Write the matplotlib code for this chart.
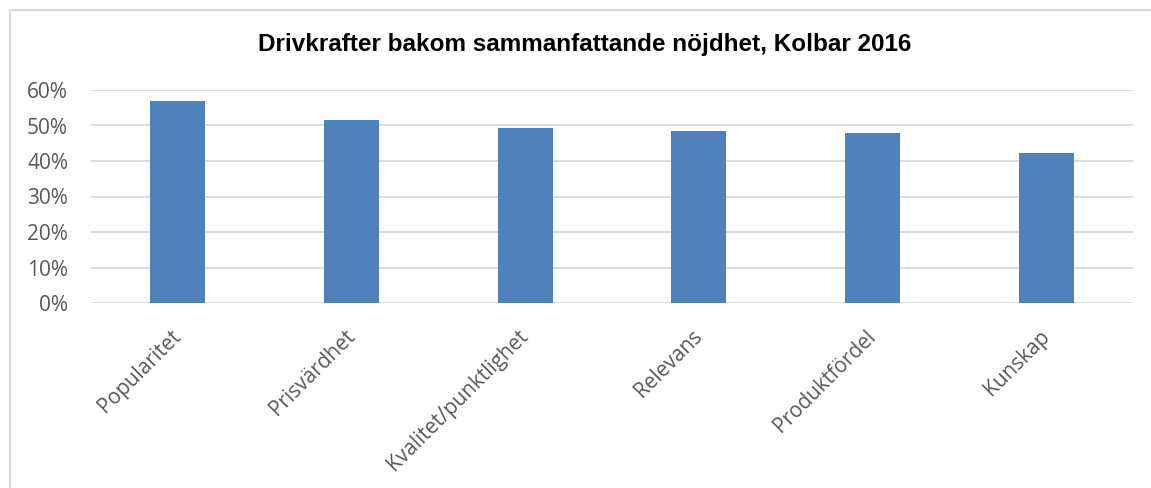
import matplotlib.pyplot as plt
from matplotlib.ticker import PercentFormatter
from matplotlib.patches import Rectangle

categories = ['Popularitet', 'Prisvärdhet', 'Kvalitet/punktlighet', 'Relevans', 'Produktfördel', 'Kunskap']
values = [0.57, 0.515, 0.493, 0.484, 0.479, 0.423]

fig = plt.figure(figsize=(11.51, 4.88), dpi=100)
ax = fig.add_axes([91 / 1151, 1 - 303 / 488, (1133 - 91) / 1151, (303 - 90) / 488])

# chart frame (only left and top edges visible in the crop)
fig.add_artist(Rectangle((10 / 1151, -0.1), 1.2, 1 - 9.5 / 488 + 0.1, transform=fig.transFigure,
                         fill=False, edgecolor='#d9d9d9', linewidth=1.5))

x = range(len(categories))
ax.bar(x, values, width=0.315, color='#4f81bd', zorder=3)

ax.set_xlim(-0.5, len(categories) - 0.5)
ax.set_ylim(0, 0.6)
ax.set_yticks([0, 0.1, 0.2, 0.3, 0.4, 0.5, 0.6])
ax.yaxis.set_major_formatter(PercentFormatter(1.0, decimals=0))
ax.grid(axis='y', color='#d9d9d9', linewidth=1.3, zorder=0)
for s in ax.spines.values():
    s.set_visible(False)
ax.tick_params(axis='both', length=0, labelsize=15, labelcolor='#595959')
ax.tick_params(axis='y', pad=16.5)
for lab in ax.get_yticklabels():
    lab.set_fontfamily('Open Sans')

ax.set_xticks(list(x))
ax.set_xticklabels(categories, rotation=45, ha='right', va='center', rotation_mode='anchor',
                   fontfamily='Open Sans')
ax.tick_params(axis='x', pad=22)

fig.text(585 / 1151, 1 - 44 / 488, 'Drivkrafter bakom sammanfattande nöjdhet, Kolbar 2016',
         ha='center', va='center', fontsize=17.5, fontweight='bold', fontfamily='Liberation Sans')

fig.savefig('out.png', dpi=100)
